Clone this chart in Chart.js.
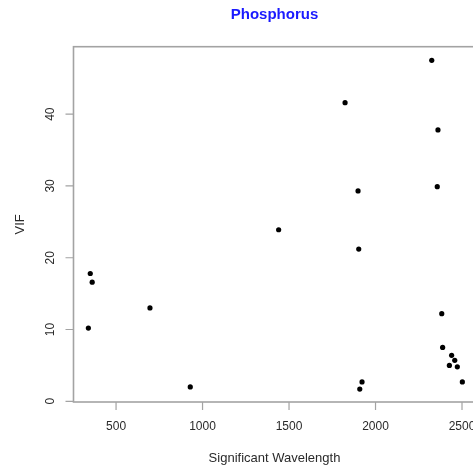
<!DOCTYPE html>
<html>
<head>
<meta charset="utf-8">
<script src="https://cdn.jsdelivr.net/npm/chart.js@4/dist/chart.umd.min.js"></script>
<style>
  html, body { margin: 0; padding: 0; background: #fff; overflow: hidden; }
  canvas { display: block; }
</style>
</head>
<body>
<canvas id="vif-chart" width="490" height="468"></canvas>
<script>
// ==== Data ====
const wavelengths = [340, 351, 362, 696, 929, 1440, 1824, 1899, 1903, 1909, 1922,
  2325, 2357, 2361, 2383, 2388, 2427, 2440, 2458, 2473, 2502];
const vifValues = [10.2, 17.8, 16.6, 13.0, 2.0, 23.9, 41.6, 29.3, 21.2, 1.7, 2.7,
  47.5, 29.9, 37.8, 12.2, 7.5, 5.0, 6.4, 5.7, 4.8, 2.7];
const xTicks = [500, 1000, 1500, 2000, 2500];
const yTicks = [0, 10, 20, 30, 40];

const chartTitle = 'Phosphorus';
const xTitle = 'Significant Wavelength';
const yTitle = 'VIF';

const FONT = '"Liberation Sans", Arial, sans-serif';
const AXIS_GRAY = '#a3a3a3';
const TEXT_COLOR = '#2a2a2a';

// ==== Frame, ticks and labels ====
const framePlugin = {
  id: 'frame',
  afterDraw(chart) {
    const { ctx, chartArea: a, scales } = chart;
    const xs = scales.x, ys = scales.y;
    ctx.save();

    // box round the plot region
    ctx.strokeStyle = AXIS_GRAY;
    ctx.lineWidth = 1.6;
    ctx.strokeRect(a.left, a.top, a.right - a.left, a.bottom - a.top);

    // tick marks
    ctx.lineWidth = 1.2;
    ctx.beginPath();
    xTicks.forEach(v => {
      const px = xs.getPixelForValue(v);
      ctx.moveTo(px, a.bottom);
      ctx.lineTo(px, a.bottom + 8);
    });
    yTicks.forEach(v => {
      const py = ys.getPixelForValue(v);
      ctx.moveTo(a.left, py);
      ctx.lineTo(a.left - 8, py);
    });
    ctx.stroke();

    // tick labels
    ctx.fillStyle = TEXT_COLOR;
    ctx.font = '12px ' + FONT;
    ctx.textAlign = 'center';
    ctx.textBaseline = 'middle';
    xTicks.forEach(v => {
      ctx.fillText(String(v), xs.getPixelForValue(v), 427);
    });
    yTicks.forEach(v => {
      ctx.save();
      ctx.translate(51, ys.getPixelForValue(v));
      ctx.rotate(-Math.PI / 2);
      ctx.fillText(String(v), 0, 0);
      ctx.restore();
    });

    // axis titles
    const midX = (a.left + a.right) / 2;
    ctx.font = '13px ' + FONT;
    ctx.fillText(xTitle, midX, 458);
    ctx.save();
    ctx.translate(20, (a.top + a.bottom) / 2);
    ctx.rotate(-Math.PI / 2);
    ctx.fillText(yTitle, 0, 0);
    ctx.restore();

    // main title
    ctx.fillStyle = '#1a1aff';
    ctx.font = 'bold 15px ' + FONT;
    ctx.fillText(chartTitle, midX, 15);

    ctx.restore();
  }
};

// ==== Chart ====
const points = wavelengths.map((w, i) => ({ x: w, y: vifValues[i] }));

new Chart(document.getElementById('vif-chart'), {
  type: 'scatter',
  data: {
    datasets: [{
      data: points,
      backgroundColor: '#000',
      borderColor: '#000',
      borderWidth: 0,
      pointRadius: 2.6,
      pointHoverRadius: 2.6
    }]
  },
  options: {
    responsive: false,
    animation: false,
    events: [],
    layout: { padding: { left: 73.5, top: 46.7, right: 14.5, bottom: 66 } },
    plugins: {
      legend: { display: false },
      title: { display: false },
      tooltip: { enabled: false }
    },
    scales: {
      // axes are drawn by the frame plugin, the scales only map values
      x: { type: 'linear', display: false, min: 254, max: 2578 },
      y: { type: 'linear', display: false, min: -0.1, max: 49.4 }
    }
  },
  plugins: [framePlugin]
});
</script>
</body>
</html>
